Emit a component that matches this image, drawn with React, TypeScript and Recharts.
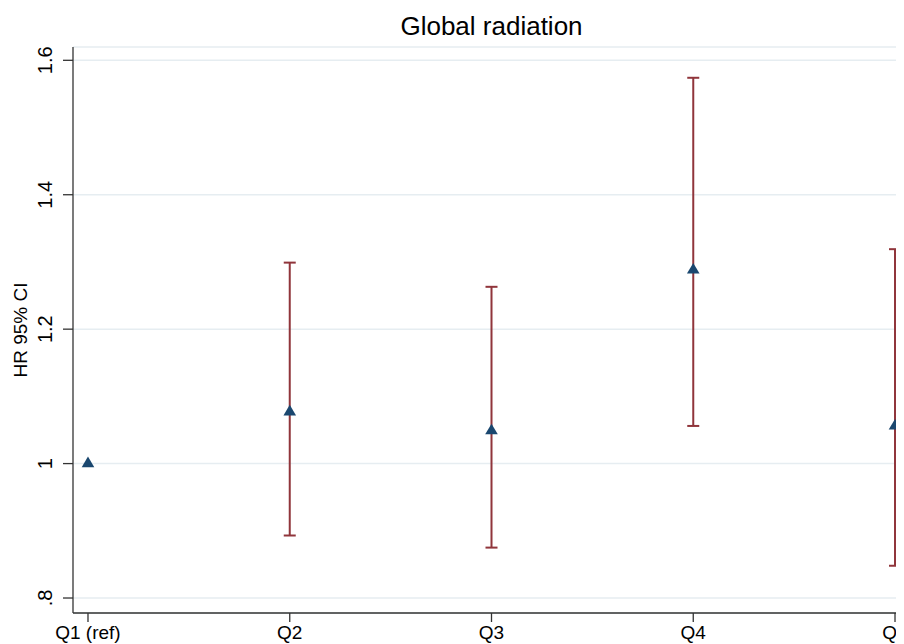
import React from 'react';
import { ComposedChart, Scatter, XAxis, YAxis, CartesianGrid, ErrorBar } from 'recharts';

const categories = ['Q1 (ref)', 'Q2', 'Q3', 'Q4', 'Q5'];
const hr = [1.0, 1.077, 1.049, 1.288, 1.056];
const lower: (number | null)[] = [null, 0.893, 0.875, 1.056, 0.848];
const upper: (number | null)[] = [null, 1.299, 1.263, 1.574, 1.319];
const yTicks = [0.8, 1.0, 1.2, 1.4, 1.6];
const xTicks = [1, 2, 3, 4, 5];

const points = categories.map((c, i) => ({ x: i + 1, y: hr[i], name: c }));
const ciRows = categories
  .map((c, i) => ({
    x: i + 1,
    y: hr[i],
    err: lower[i] != null && upper[i] != null ? [hr[i] - (lower[i] as number), (upper[i] as number) - hr[i]] : null,
  }))
  .filter((r) => r.err !== null);

const FONT = '"Liberation Sans", Arial, Helvetica, sans-serif';
const NAVY = '#1a476f';
const CRANBERRY = '#90353b';
const AXIS = '#333333';

const fmtY = (v: number) => {
  const s = String(Math.round(v * 10) / 10);
  return s.startsWith('0.') ? s.slice(1) : s;
};

const YTick = (props: any) => {
  const { y, payload } = props;
  const bx = 44;
  return (
    <text x={bx} y={y} transform={`rotate(-90 ${bx} ${y})`} textAnchor="middle" fontSize={20} fontFamily={FONT} fill="#000">
      {fmtY(payload.value)}
    </text>
  );
};

const XTick = (props: any) => {
  const { x, payload } = props;
  return (
    <text x={x} y={631} textAnchor="middle" fontSize={19} fontFamily={FONT} fill="#000">
      {categories[payload.value - 1]}
    </text>
  );
};

const Triangle = (props: any) => {
  const { cx, cy } = props;
  if (cx == null || cy == null) return <g />;
  return <polygon points={`${cx},${cy - 7} ${cx - 6.3},${cy + 3.6} ${cx + 6.3},${cy + 3.6}`} fill={NAVY} />;
};

const Empty = () => <g />;

export default function App() {
  return (
    <div style={{ position: 'relative', width: 896, height: 636, overflow: 'hidden' }}>
      <ComposedChart width={912} height={660} margin={{ top: 39, right: 10, left: 0, bottom: 0 }}>
        <CartesianGrid horizontal vertical={false} stroke="#e6edf1" strokeWidth={1.5} />
        <XAxis
          type="number"
          dataKey="x"
          domain={[0.9257, 5.0743]}
          ticks={xTicks}
          allowDataOverflow
          height={55}
          tickSize={9}
          axisLine={{ stroke: AXIS, strokeWidth: 1.3 }}
          tickLine={{ stroke: AXIS, strokeWidth: 1.3 }}
          tick={<XTick />}
          interval={0}
        />
        <YAxis
          type="number"
          dataKey="y"
          domain={[0.7777, 1.6198]}
          ticks={yTicks}
          allowDataOverflow
          width={65}
          tickSize={10}
          axisLine={{ stroke: AXIS, strokeWidth: 1.3 }}
          tickLine={{ stroke: AXIS, strokeWidth: 1.3 }}
          tick={<YTick />}
          interval={0}
          label={{
            content: () => (
              <text x={19} y={322} transform="rotate(-90 19 322)" textAnchor="middle" fontSize={19} fontFamily={FONT} fill="#000">
                HR 95% CI
              </text>
            ),
          }}
        />
        <Scatter data={points} shape={<Triangle />} isAnimationActive={false} />
        <Scatter data={ciRows} shape={<Empty />} isAnimationActive={false}>
          <ErrorBar dataKey="err" direction="y" width={6} stroke={CRANBERRY} strokeWidth={2} isAnimationActive={false} />
        </Scatter>
      </ComposedChart>
      <svg width={896} height={50} style={{ position: 'absolute', left: 0, top: 0 }}>
        <text x={483.5} y={27} textAnchor="middle" fontSize={26} fontFamily={FONT} fill="#000">
          Global radiation
        </text>
      </svg>
    </div>
  );
}
